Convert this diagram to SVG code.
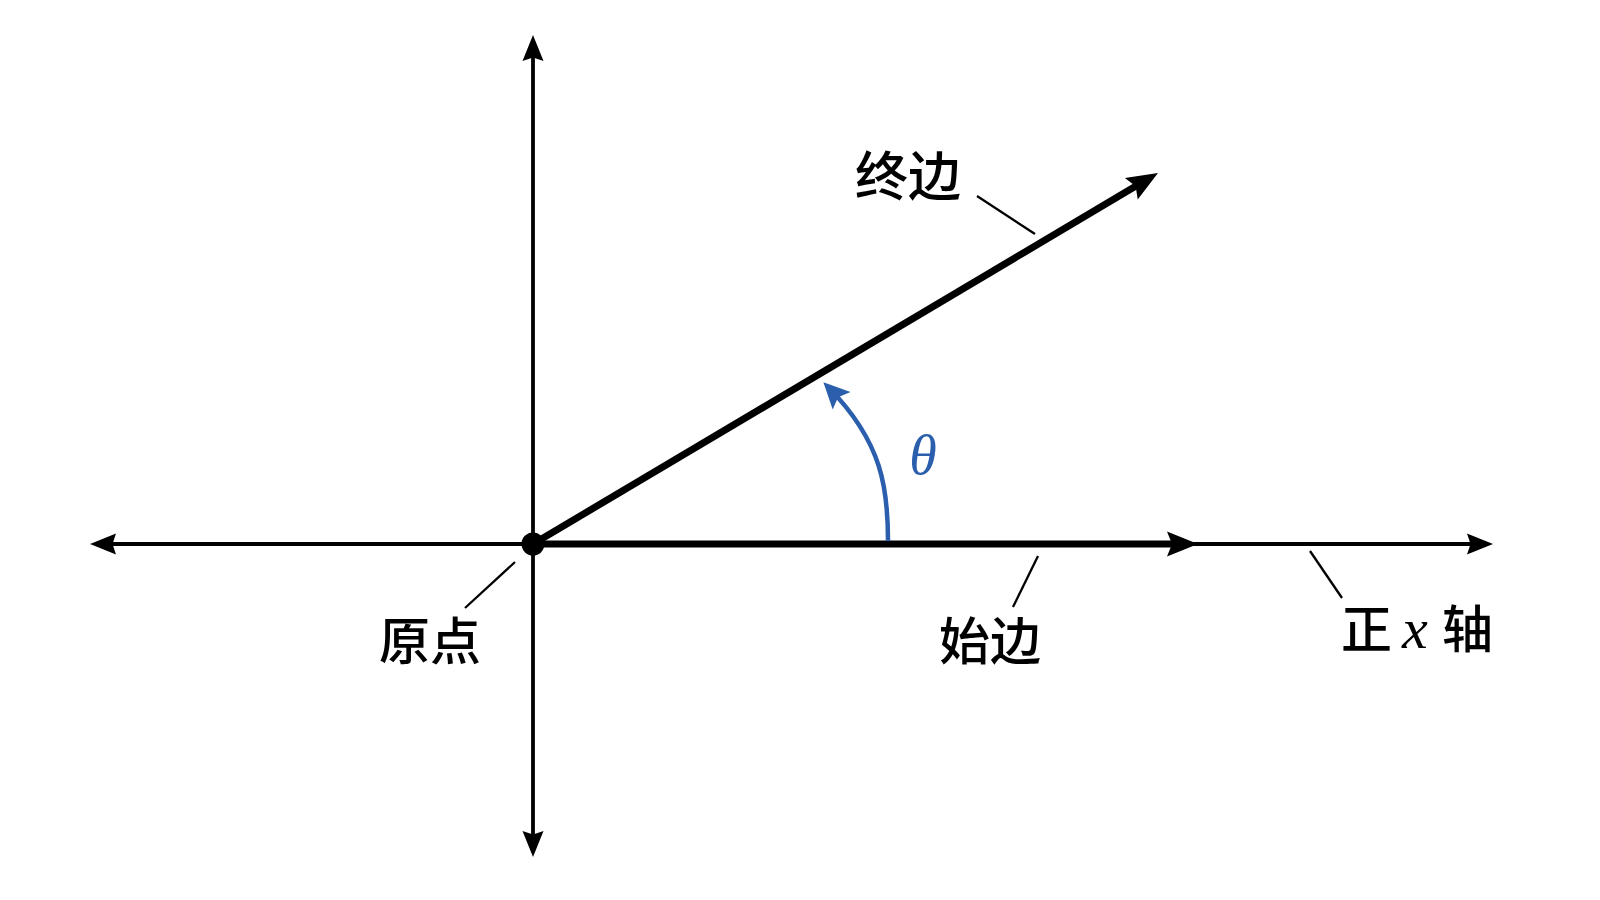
<svg xmlns="http://www.w3.org/2000/svg" width="1600" height="900" viewBox="0 0 1600 900">
<style>
.axis{stroke:#000;stroke-width:3.8;fill:none}
.side{stroke:#000;stroke-width:7;fill:none}
.leader{stroke:#000;stroke-width:2.3;fill:none}
.arc{stroke:#2b5fad;stroke-width:4.5;fill:none}
.lbl{font-family:"Noto Sans CJK SC","Noto Sans",sans-serif;font-size:51px;font-weight:500;fill:#000}
.var{font-family:"Liberation Serif","DejaVu Serif",serif;font-style:italic;font-weight:400}
</style>
<defs>
<marker id="ah" markerUnits="userSpaceOnUse" viewBox="-20 -12 30 24" refX="0" refY="0" markerWidth="30" markerHeight="24" orient="auto-start-reverse">
<path d="M8,0 L-18,-10.5 L-14.5,0 L-18,10.5 Z" fill="#000"/>
</marker>
<marker id="ahb" markerUnits="userSpaceOnUse" viewBox="-22 -14 34 28" refX="0" refY="0" markerWidth="34" markerHeight="28" orient="auto">
<path d="M10,0 L-21,-12.5 L-16,0 L-21,12.5 Z" fill="#000"/>
</marker>
<marker id="ahc" markerUnits="userSpaceOnUse" viewBox="-20 -14 30 28" refX="0" refY="0" markerWidth="30" markerHeight="28" orient="auto">
<path d="M8,0 L-18,-12.5 L-13,0 L-18,12.5 Z" fill="#2b5fad"/>
</marker>
</defs>
<rect width="1600" height="900" fill="#fff"/>
<g id="connectors">
<line id="x-axis" class="axis" x1="98" y1="544" x2="1485" y2="544" marker-start="url(#ah)" marker-end="url(#ah)"/>
<line id="y-axis" class="axis" x1="533" y1="43" x2="533" y2="849" marker-start="url(#ah)" marker-end="url(#ah)"/>
<line id="initial-side" class="side" x1="533" y1="544" x2="1188" y2="544" marker-end="url(#ahb)"/>
<line id="terminal-side" class="side" x1="533" y1="544" x2="1149.4" y2="178.1" marker-end="url(#ahb)"/>
<path id="angle-arc" class="arc" d="M888 541 C888 490 883 443 829 388" marker-end="url(#ahc)"/>
<line class="leader" x1="977" y1="196" x2="1035" y2="234"/>
<line class="leader" x1="1038" y1="556" x2="1013" y2="607"/>
<line class="leader" x1="515" y1="562" x2="465" y2="608"/>
<line class="leader" x1="1310" y1="551" x2="1342" y2="598"/>
</g>
<g id="origin">
<circle cx="533" cy="544" r="11.5" fill="#000"/>
<text class="lbl" x="430" y="660" text-anchor="middle">原点</text>
</g>
<g id="terminal-label">
<text class="lbl" x="908" y="196" text-anchor="middle" style="font-size:53px">终边</text>
</g>
<g id="initial-label">
<text class="lbl" x="990" y="660" text-anchor="middle">始边</text>
</g>
<g id="positive-x-label">
<text class="lbl" x="1341" y="648">正</text>
<text class="lbl var" x="1402" y="648" style="font-size:58px">x</text>
<text class="lbl" x="1442" y="648">轴</text>
</g>
<g id="theta">
<text class="var" x="923" y="474" text-anchor="middle" style="font-size:56px;fill:#2b5fad">θ</text>
</g>
</svg>
